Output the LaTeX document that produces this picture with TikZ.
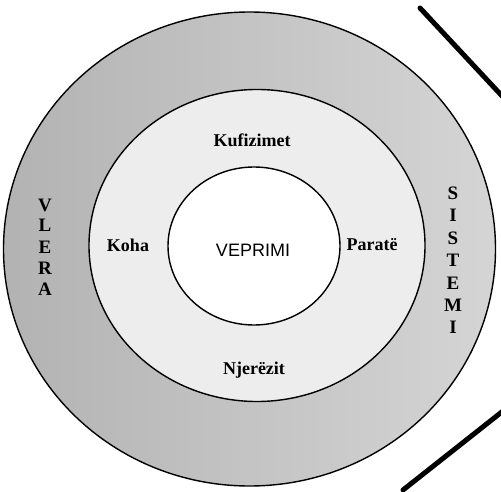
\documentclass[tikz,border=0pt]{standalone}
\usepackage{fontspec}
\setmainfont{Liberation Serif}
\newfontfamily\lblsans{Liberation Sans}
\begin{document}
\begin{tikzpicture}[x=1pt,y=-1pt,
  ring/.style={draw=black,line width=1.4pt},
  lbl/.style={font=\fontsize{18}{18}\selectfont\bfseries,inner sep=0pt},
  vlet/.style={font=\fontsize{19}{19}\selectfont\bfseries,inner sep=0pt},
  bar/.style={line width=5pt,line cap=round}]
\useasboundingbox (0,0) rectangle (501,492);
% outer ring (shaded)
\shade[left color=gray!60,right color=gray!33,even odd rule]
  (249.5,249) ellipse [x radius=246,y radius=237]
  (257,245.5) ellipse [x radius=168,y radius=156];
% middle ring
\fill[gray!14,even odd rule]
  (257,245.5) ellipse [x radius=168,y radius=156]
  (254,246) ellipse [x radius=86,y radius=79];
\draw[ring] (249.5,249) ellipse [x radius=246,y radius=237];
\draw[ring] (257,245.5) ellipse [x radius=168,y radius=156];
\draw[ring,fill=white] (254,246) ellipse [x radius=86,y radius=79];
% labels
\node[inner sep=0pt,font=\lblsans\fontsize{18}{18}\selectfont] (veprimi) at (253,250) {VEPRIMI};
\node[lbl] (kuf) at (252,140) {Kufizimet};
\node[lbl] (koha) at (128,245) {Koha};
\node[lbl] (parate) at (372,245) {Paratë};
\node[lbl] (njer) at (254,370) {Njerëzit};
% VLERA
\foreach \c/\yy [count=\i] in {V/205,L/225,E/247,R/268,A/289}
  \node[vlet] (vl\i) at (45,\yy) {\c};
% SISTEMI
\foreach \c/\yy [count=\i] in {S/193,I/215,S/238,T/260,E/283,M/305,I/327}
  \node[vlet] (si\i) at (453,\yy) {\c};
% diagonal bars
\coordinate (t1) at (420,8);
\coordinate (t2) at (503,97);
\coordinate (b1) at (403,490);
\coordinate (b2) at (503,411);
\draw[bar] (t1) -- (t2);
\draw[bar] (b1) -- (b2);
\end{tikzpicture}
\end{document}
